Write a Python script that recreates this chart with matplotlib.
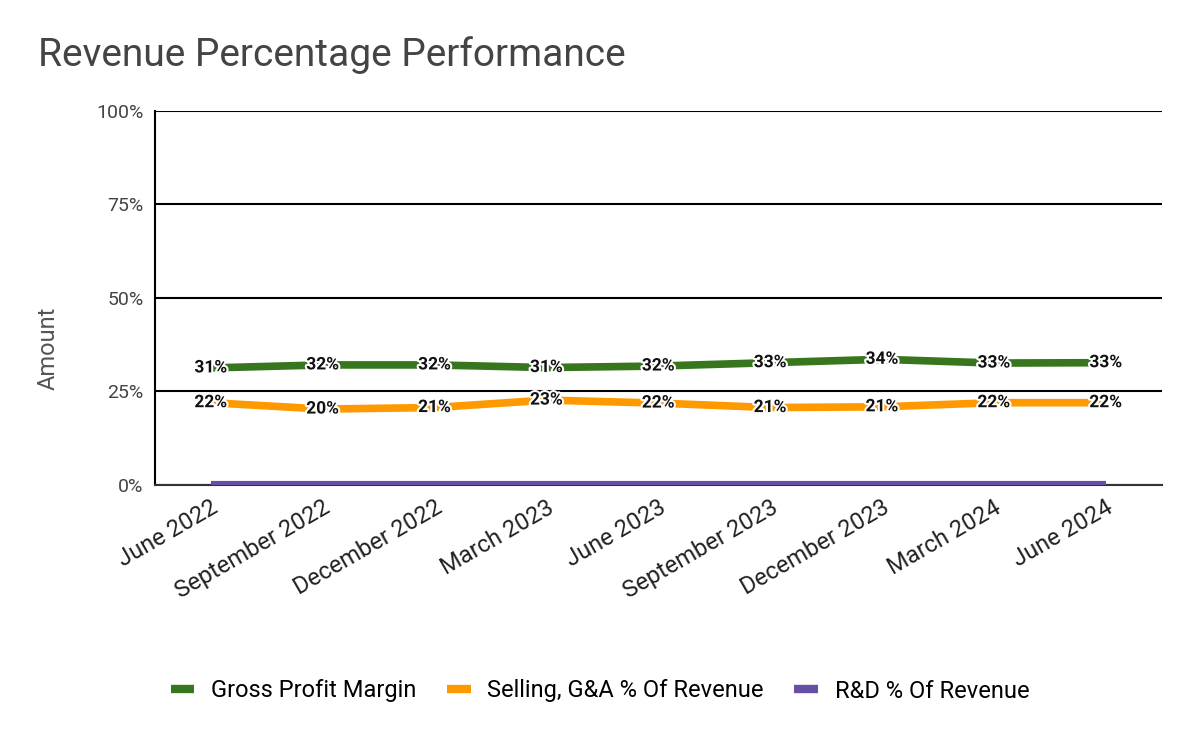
import matplotlib.pyplot as plt
import matplotlib.patheffects as pe
from matplotlib.ticker import FuncFormatter

plt.rcParams['font.family'] = ['Roboto', 'DejaVu Sans']

# data
periods = ["June 2022", "September 2022", "December 2022", "March 2023", "June 2023",
           "September 2023", "December 2023", "March 2024", "June 2024"]
gross_margin = [31.3, 32.1, 32.1, 31.4, 31.8, 32.7, 33.6, 32.6, 32.7]
sga_pct = [22.0, 20.3, 20.7, 22.7, 21.9, 20.7, 20.9, 22.0, 22.0]
rd_pct = [0.5, 0.5, 0.5, 0.5, 0.5, 0.5, 0.5, 0.5, 0.5]

fig = plt.figure(figsize=(12, 7.42), dpi=100)
ax = fig.add_axes([0.129, 0.3464, 0.839, 0.504])

x = list(range(len(periods)))
ax.plot(x, gross_margin, color="#38761d", lw=5.5, solid_capstyle="butt", label="Gross Profit Margin", zorder=3)
ax.plot(x, sga_pct, color="#ff9900", lw=5.5, solid_capstyle="butt", label="Selling, G&A % Of Revenue", zorder=3)
ax.plot(x, rd_pct, color="#674ea7", lw=3, solid_capstyle="butt", label="R&D % Of Revenue", zorder=3)

stroke = [pe.withStroke(linewidth=3, foreground="white")]
for series in (gross_margin, sga_pct):
    for xi, v in zip(x, series):
        ax.text(xi, v, f"{round(v)}%", ha="center", va="center", fontsize=12.5,
                fontweight="bold", color="#111111", path_effects=stroke, zorder=4)

ax.set_xlim(-0.5, len(periods) - 0.5)
ax.set_ylim(0, 100)
ax.set_yticks([0, 25, 50, 75, 100])
ax.yaxis.set_major_formatter(FuncFormatter(lambda v, p: f"{v:.0f}%"))
ax.grid(axis="y", color="black", lw=1.5, zorder=1)
ax.set_xticks(x)
ax.set_xticklabels(periods, rotation=30, ha="right", rotation_mode="anchor", fontsize=17, color="#222222")
ax.tick_params(axis="y", length=0, labelsize=14, colors="#444444", pad=8)
ax.tick_params(axis="x", length=0, pad=8)
for s in ("top", "right"):
    ax.spines[s].set_visible(False)
ax.spines["left"].set_linewidth(1.5)
ax.spines["bottom"].set_color("#333333")
ax.spines["bottom"].set_linewidth(1.5)

fig.text(48 / 1200, 1 - 348 / 742, "Amount", rotation=90, fontsize=17, color="#555555",
         ha="center", va="center")
fig.text(0.032, 1 - 55 / 742, "Revenue Percentage Performance", fontsize=28, color="#444444", va="center")

leg = fig.legend(loc="center", bbox_to_anchor=(0.5, 1 - 691 / 742), ncol=3, frameon=False, fontsize=17,
                 handlelength=1.0, columnspacing=1.3, handletextpad=0.7)
for h in leg.legend_handles:
    h.set_linewidth(6)

fig.savefig("out.png")
